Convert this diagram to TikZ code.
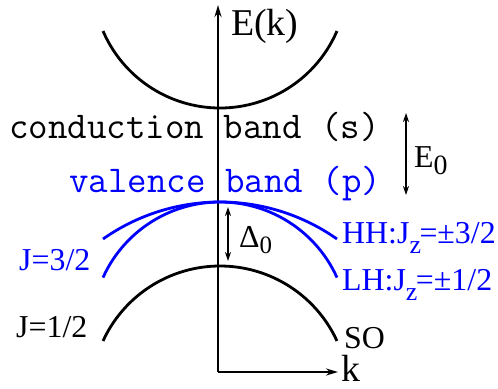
\documentclass[tikz,border=0pt]{standalone}
\usepackage{fontspec}
\setmainfont{Liberation Serif}
\usetikzlibrary{arrows.meta}
\definecolor{bandblue}{RGB}{0,0,255}
\newcommand\lowsub[3]{\raisebox{-#2bp}{\fontsize{#1}{#1}\selectfont #3}}
\begin{document}
\begin{tikzpicture}[x=1bp,y=-1bp,
  band/.style={line width=2.8bp},
  axisline/.style={line width=2.2bp},
  gaparrow/.style={line width=1.4bp,{Stealth[length=9bp,width=6bp]}-{Stealth[length=9bp,width=6bp]}},
  lbl/.style={inner sep=0pt,anchor=base west,font=\fontsize{32}{32}\selectfont},
  axlbl/.style={inner sep=0pt,anchor=base west,font=\fontsize{38}{38}\selectfont},
  mono/.style={inner sep=0pt,anchor=base west,font=\fontsize{38}{38}\selectfont\ttfamily}]
\useasboundingbox (0,0) rectangle (498,388);
% axes
\coordinate (O) at (218,372);
\coordinate (Etop) at (218,5);
\coordinate (ktip) at (338,372);
\draw[axisline,-{Stealth[length=12bp,width=7bp]}] (O) -- (Etop);
\draw[axisline,-{Stealth[length=12bp,width=7bp]}] (O) -- (ktip);
\node[axlbl] (Ek) at (231,35) {E(k)};
\node[axlbl] (k) at (341,381) {k};
% conduction band (circular arc)
\draw[band] plot[domain=103:337,samples=90] (\x,{-19.4+127.4*sqrt(1-((\x-220)/127.4)^2)});
% valence bands
\draw[band,bandblue] plot[domain=103:337,samples=90] (\x,{405.5-203.5*sqrt(1-((\x-220)/203.5)^2)});
\draw[band,bandblue] plot[domain=103:337,samples=90] (\x,{330.4-128.4*sqrt(1-((\x-220)/128.4)^2)});
% split-off band
\draw[band] plot[domain=103:337,samples=90] (\x,{394.8-128.8*sqrt(1-((\x-220)/128.8)^2)});
% band labels
\node[mono] (cond) at (9,138) {conduction band (s)};
\node[mono,text=bandblue] (val) at (69,192) {valence band (p)};
% gaps
\coordinate (e0t) at (406,113);
\coordinate (e0b) at (406,195);
\draw[gaparrow] (e0t) -- (e0b);
\node[lbl] (E0) at (414,167) {E\lowsub{28}{7}{0}};
\coordinate (d0t) at (228,207);
\coordinate (d0b) at (228,261);
\draw[gaparrow] (d0t) -- (d0b);
\node[lbl] (D0) at (239,247) {Δ\lowsub{25}{6}{0}};
% state labels
\node[lbl,text=bandblue] (HH) at (342,243) {HH:J\lowsub{26}{10}{z}\kern-1.5bp=±3/2};
\node[lbl,text=bandblue] (LH) at (342,290) {LH:J\lowsub{26}{10}{z}\kern-1.5bp=±1/2};
\node[lbl,text=bandblue] (J32) at (19,270) {J=3/2};
\node[lbl] (J12) at (16,337) {J=1/2};
\node[lbl] (SO) at (344,348) {SO};
\end{tikzpicture}
\end{document}
